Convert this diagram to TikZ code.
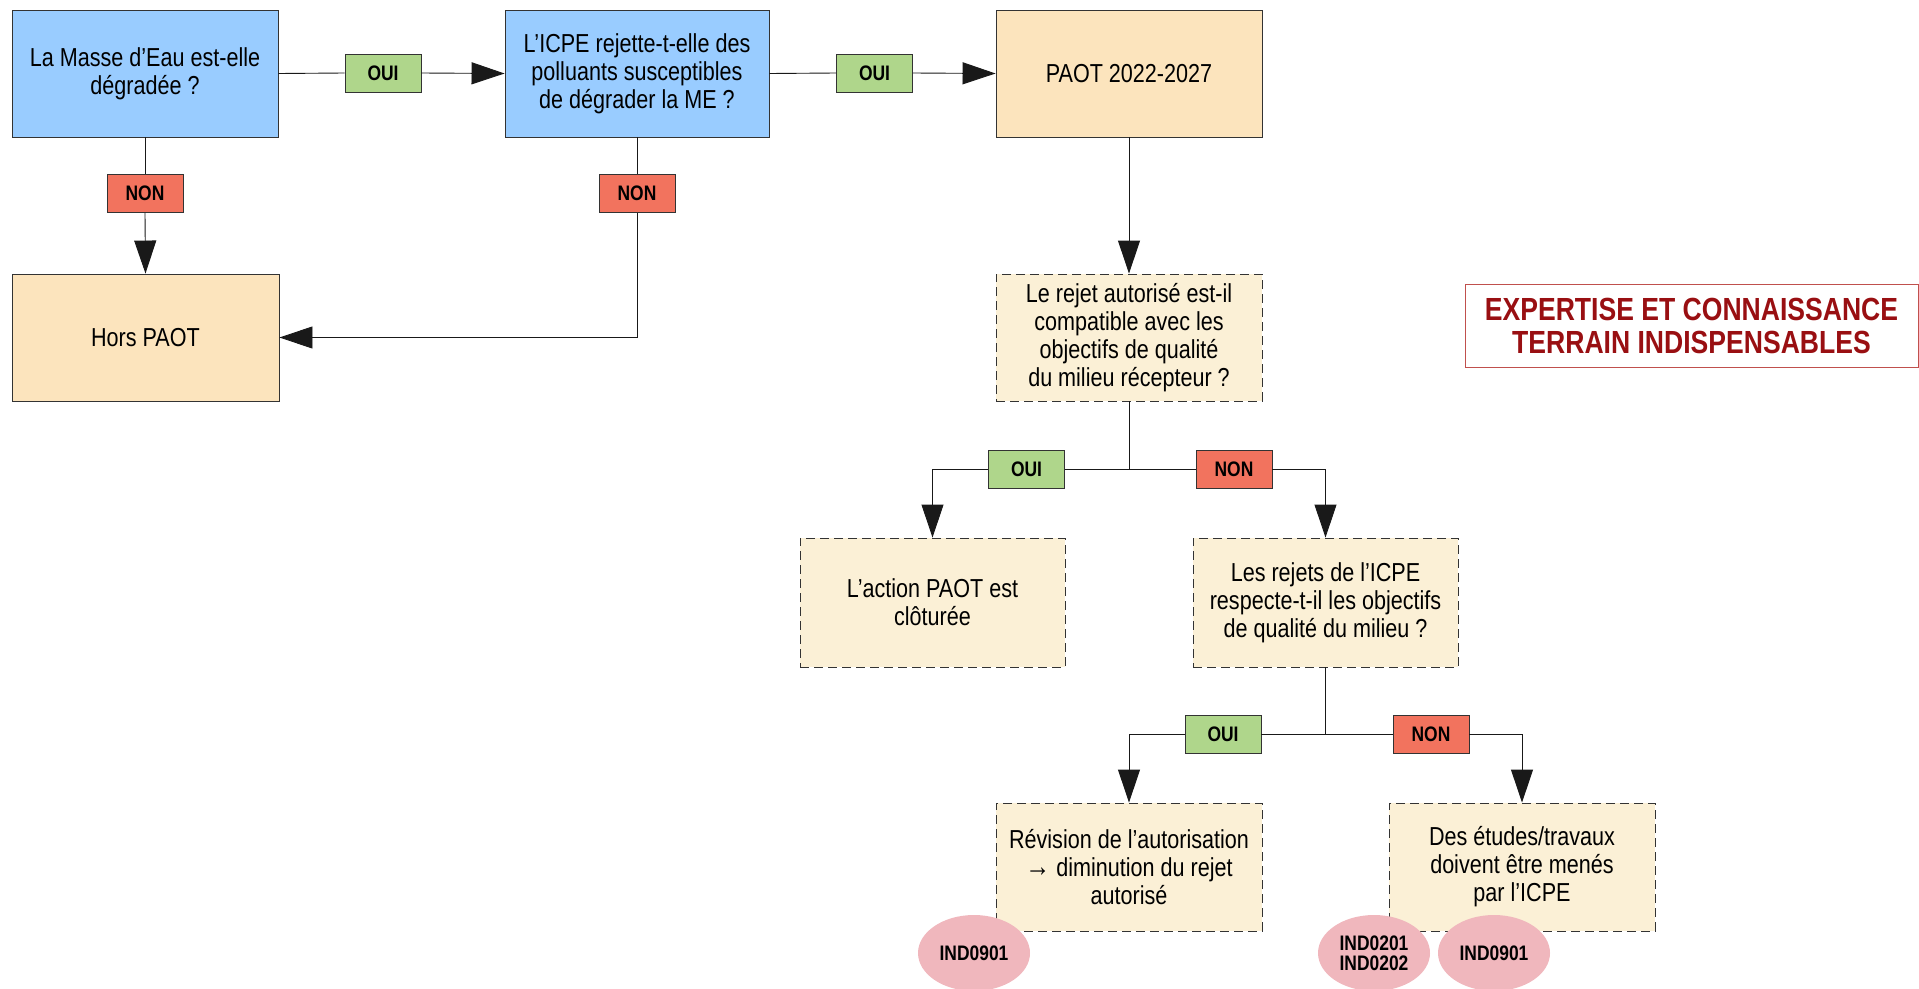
\documentclass[tikz,border=0pt]{standalone}
\usepackage{fontspec}
\setmainfont[FakeStretch=0.83]{Liberation Sans}
\usetikzlibrary{arrows.meta,shapes.geometric}
\definecolor{bluebox}{HTML}{99CCFF}
\definecolor{peach}{HTML}{FCE4BD}
\definecolor{cream}{HTML}{FBF0D6}
\definecolor{ouigreen}{HTML}{AFD68B}
\definecolor{nonred}{HTML}{F2735E}
\definecolor{pinkell}{HTML}{F0B7BD}
\definecolor{darkred}{HTML}{990F12}
\definecolor{framered}{HTML}{C0504D}
\definecolor{edge}{HTML}{333333}
\tikzset{
  base/.style={draw=edge, line width=0.9pt, align=center, inner sep=4pt,
    font=\fontsize{26}{28}\selectfont, text=black},
  solidbox/.style={base, minimum width=266pt, minimum height=127pt},
  qbox/.style={solidbox, fill=bluebox},
  pbox/.style={solidbox, fill=peach},
  dbox/.style={base, fill=cream, dash pattern=on 9pt off 5pt, minimum width=266pt, minimum height=128pt},
  lab/.style={draw=edge, line width=0.9pt, minimum width=76pt, minimum height=38pt, inner sep=0pt,
    font=\fontsize{21}{22}\selectfont\bfseries},
  oui/.style={lab, fill=ouigreen},
  non/.style={lab, fill=nonred},
  ind/.style={ellipse, fill=pinkell, minimum width=112pt, minimum height=76pt, inner sep=0pt,
    align=center, font=\fontsize{21}{20}\selectfont\bfseries},
  conn/.style={draw=black!90, line width=0.9pt},
  arr/.style={conn, -{Triangle[length=33pt,width=22pt]}},
}
\begin{document}
\begin{tikzpicture}[x=1pt,y=-1pt]
\useasboundingbox (0,0) rectangle (1919,988);
% main boxes
\node[qbox] (b1) at (145,73.5) {La Masse d’Eau est-elle\\dégradée ?};
\node[qbox, minimum width=264pt] (b2) at (637,73.5) {L’ICPE rejette-t-elle des\\polluants susceptibles\\de dégrader la ME ?};
\node[pbox] (b3) at (1129,73.5) {PAOT 2022-2027};
\node[pbox, minimum width=267pt] (hors) at (145.5,337.5) {Hors PAOT};
\node[dbox, minimum height=127pt] (q1) at (1129,337.5) {Le rejet autorisé est-il\\compatible avec les\\objectifs de qualité\\du milieu récepteur ?};
\node[dbox, minimum width=265pt, minimum height=129pt] (act) at (932.5,602.5) {L’action PAOT est\\clôturée};
\node[dbox, minimum width=265pt, minimum height=129pt] (rej) at (1325.5,602.5) {Les rejets de l’ICPE\\respecte-t-il les objectifs\\de qualité du milieu ?};
\node[dbox] (rev) at (1129,867) {Révision de l’autorisation\\{\fontsize{30}{28}\selectfont→} diminution du rejet\\autorisé};
\node[dbox] (etu) at (1522,867) {Des études/travaux\\doivent être menés\\par l’ICPE};
\node[draw=framered, line width=1pt, minimum width=453pt, minimum height=83pt, align=center,
  text=darkred, font=\fontsize{32}{33}\selectfont\bfseries] (exp) at (1691.5,325.5)
  {EXPERTISE ET CONNAISSANCE\\TERRAIN INDISPENSABLES};
% labels
\node[oui] (o1) at (383,73) {OUI};
\node[oui] (o2) at (874.5,73) {OUI};
\node[non] (n1) at (145,193.5) {NON};
\node[non] (n2) at (637,193.5) {NON};
\node[oui] (o3) at (1026.5,469) {OUI};
\node[non] (n3) at (1234,469) {NON};
\node[oui] (o4) at (1223,734) {OUI};
\node[non] (n4) at (1431,734) {NON};
\coordinate (br1) at (1129,469);
\coordinate (br2) at (1325.5,734);
% connectors
\draw[conn] (b1.east) -- (o1.west);
\draw[arr] (o1.east) -- (b2.west);
\draw[conn] (b2.east) -- (o2.west);
\draw[arr] (o2.east) -- (b3.west);
\draw[conn] (b1.south) -- (n1.north);
\draw[arr] (n1.south) -- (hors.north);
\draw[conn] (b2.south) -- (n2.north);
\draw[arr] (n2.south) |- (hors.east);
\draw[arr] (b3.south) -- (q1.north);
\draw[conn] (q1.south) -- (br1);
\draw[conn] (br1) -- (o3.east);
\draw[arr] (o3.west) -| (act.north);
\draw[conn] (br1) -- (n3.west);
\draw[arr] (n3.east) -| (rej.north);
\draw[conn] (rej.south) -- (br2);
\draw[conn] (br2) -- (o4.east);
\draw[arr] (o4.west) -| (rev.north);
\draw[conn] (br2) -- (n4.west);
\draw[arr] (n4.east) -| (etu.north);
% indicators
\node[ind] (i1) at (974,953) {IND0901};
\node[ind] (i2) at (1374,953) {IND0201\\IND0202};
\node[ind] (i3) at (1494,953) {IND0901};
\end{tikzpicture}
\end{document}
